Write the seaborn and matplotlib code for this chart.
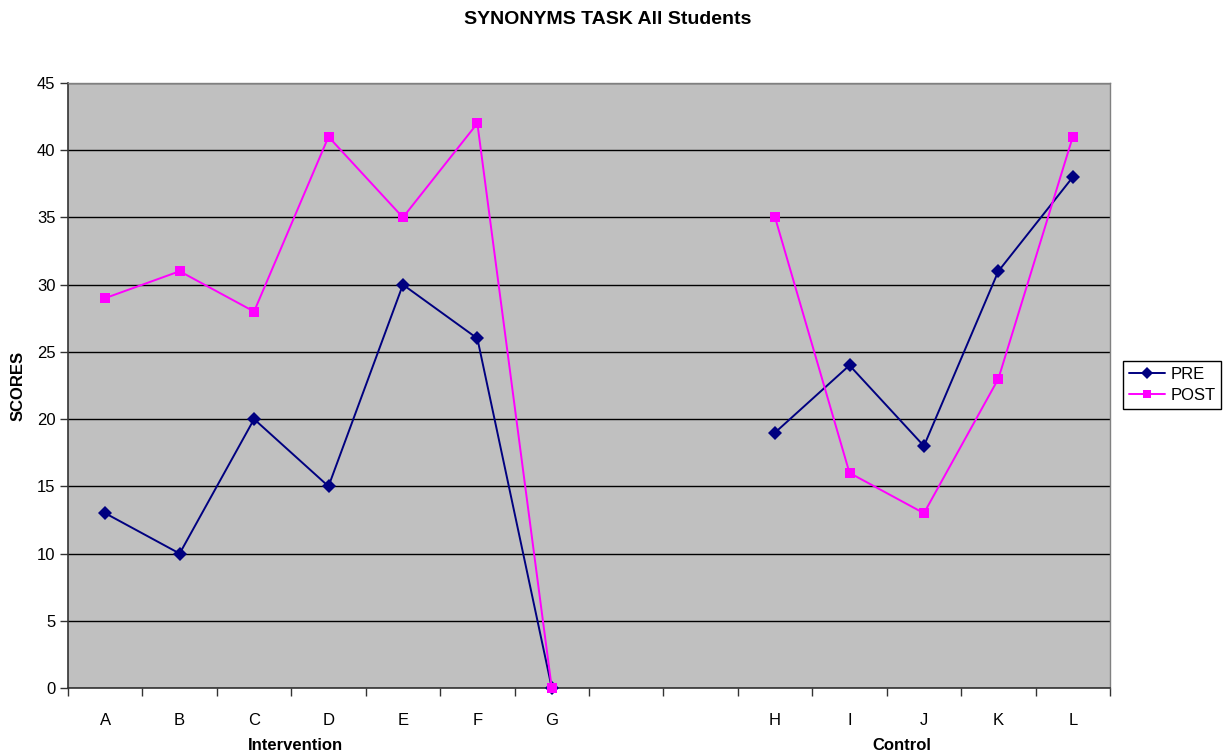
import matplotlib
matplotlib.use("Agg")
import matplotlib.pyplot as plt
import seaborn as sns
import pandas as pd
import numpy as np
from matplotlib.lines import Line2D

# Category slots along the x axis (two empty slots separate the groups)
slots = ["A", "B", "C", "D", "E", "F", "G", "", "", "H", "I", "J", "K", "L"]
intervention = ["A", "B", "C", "D", "E", "F", "G"]
control = ["H", "I", "J", "K", "L"]

pre_intervention = [13, 10, 20, 15, 30, 26, 0]
post_intervention = [29, 31, 28, 41, 35, 42, 0]
pre_control = [19, 24, 18, 31, 38]
post_control = [35, 16, 13, 23, 41]

y_ticks = [0, 5, 10, 15, 20, 25, 30, 35, 40, 45]

rows = []
for grp, cats, pre, post in [("Intervention", intervention, pre_intervention, post_intervention),
                             ("Control", control, pre_control, post_control)]:
    for c, a, b in zip(cats, pre, post):
        rows.append({"group": grp, "student": c, "pos": slots.index(c), "phase": "PRE", "score": a})
        rows.append({"group": grp, "student": c, "pos": slots.index(c), "phase": "POST", "score": b})
df = pd.DataFrame(rows)

sns.set_theme(style="white")
plt.rcParams["font.family"] = ["Liberation Sans", "DejaVu Sans"]
plt.rcParams.update({"text.color": "black", "axes.labelcolor": "black",
                     "xtick.color": "black", "ytick.color": "black"})

W, H = 1228, 756
fig = plt.figure(figsize=(W / 100, H / 100), dpi=100)
ax = fig.add_axes([68 / W, (H - 688) / H, (1110 - 68) / W, (688 - 83) / H])
ax.set_facecolor("#C0C0C0")

palette = {"PRE": "#000080", "POST": "#FF00FF"}
sns.lineplot(data=df, x="pos", y="score", hue="phase", style="phase",
             units="group", estimator=None, palette=palette,
             markers={"PRE": "D", "POST": "s"}, dashes=False,
             markersize=7.5, markeredgewidth=0, linewidth=1.4,
             legend=False, ax=ax, zorder=3)
for line in ax.lines:
    line.set_clip_on(False)

ax.set_xlim(-0.5, len(slots) - 0.5)
ax.set_ylim(0, 45)
ax.set_yticks(y_ticks)
ax.yaxis.grid(True, color="black", linewidth=1.0)
ax.set_axisbelow(True)

# Category labels centered in slots, ticks at slot boundaries
ax.set_xticks(np.arange(len(slots) + 1) - 0.5)
ax.set_xticklabels([])
ax.set_xticks(np.arange(len(slots)), minor=True)
ax.set_xticklabels(slots, minor=True)
ax.tick_params(axis="x", which="major", direction="out", length=6, width=1, color="#333333", bottom=True)
ax.tick_params(axis="x", which="minor", length=0, pad=18, labelsize=12)
ax.tick_params(axis="y", direction="out", length=6, width=1, color="#333333", left=True, labelsize=12, pad=3)

for side in ["left", "bottom"]:
    ax.spines[side].set_color("#333333")
    ax.spines[side].set_linewidth(1.2)
for side in ["top", "right"]:
    ax.spines[side].set_color("#808080")
    ax.spines[side].set_linewidth(1.0)

ax.set_xlabel("")
ax.set_ylabel("SCORES", fontsize=12, fontweight="bold", labelpad=8)

# Group labels beneath the category labels
ax.text(2.55, -0.095, "Intervention", transform=ax.get_xaxis_transform(),
        ha="center", va="center", fontsize=12, fontweight="bold")
ax.text(10.7, -0.095, "Control", transform=ax.get_xaxis_transform(),
        ha="center", va="center", fontsize=12, fontweight="bold")

fig.text(608 / W, 1 - 20 / H, "SYNONYMS TASK All Students", ha="center", va="center",
         fontsize=14, fontweight="bold")

handles = [Line2D([], [], color=palette["PRE"], marker="D", markersize=6, markeredgewidth=0, linewidth=1.4),
           Line2D([], [], color=palette["POST"], marker="s", markersize=6, markeredgewidth=0, linewidth=1.4)]
leg = fig.legend(handles, ["PRE", "POST"], loc="center", bbox_to_anchor=(1172 / W, 1 - 385 / H),
                 frameon=True, fancybox=False, edgecolor="black", framealpha=1,
                 fontsize=12, handlelength=2.2, handletextpad=0.3, borderpad=0.35,
                 labelspacing=0.35, borderaxespad=0)
leg.get_frame().set_linewidth(1.0)

fig.savefig("out.png", dpi=100, facecolor="white")
